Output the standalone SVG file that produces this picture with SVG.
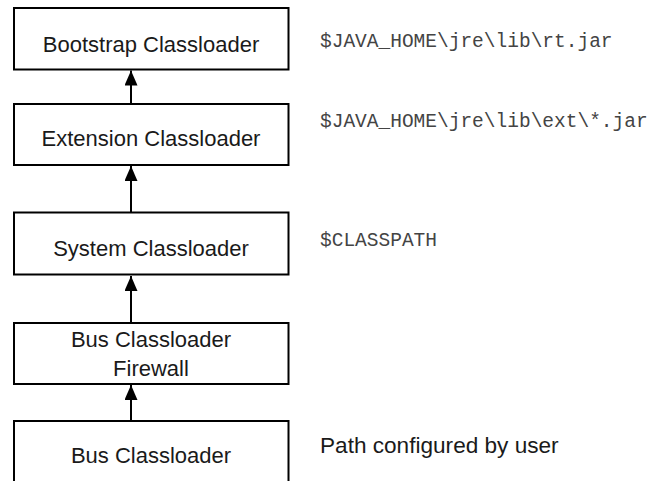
<svg xmlns="http://www.w3.org/2000/svg" width="655" height="481" viewBox="0 0 655 481">
<defs>
<style>
.box{fill:#fff;stroke:#000;stroke-width:2}
.lbl{font-family:"Liberation Sans",Arial,sans-serif;font-size:22px;fill:#1a1a1a;text-anchor:middle}
.note{font-family:"Liberation Sans",Arial,sans-serif;font-size:22.6px;fill:#1a1a1a}
.mono{font-family:"Liberation Mono","Courier New",monospace;font-size:19.5px;fill:#444}
.edge{stroke:#000;stroke-width:2;fill:none;marker-end:url(#arr)}
</style>
<marker id="arr" viewBox="0 0 15 13" refX="15" refY="6.5" markerWidth="15" markerHeight="13" markerUnits="userSpaceOnUse" orient="auto">
<path d="M0,0 L15,6.5 L0,13 Z" fill="#000"/>
</marker>
</defs>
<rect width="655" height="481" fill="#fff"/>
<g id="connectors">
<line class="edge" x1="131" y1="104" x2="131" y2="70.5"/>
<line class="edge" x1="131" y1="212.5" x2="131" y2="166"/>
<line class="edge" x1="131" y1="323" x2="131" y2="276"/>
<line class="edge" x1="131" y1="421" x2="131" y2="385"/>
</g>
<g id="bootstrap">
<rect class="box" x="14" y="8" width="274.5" height="61.5"/>
<text class="lbl" x="151" y="51.5">Bootstrap Classloader</text>
</g>
<g id="extension">
<rect class="box" x="14" y="104" width="274.5" height="61"/>
<text class="lbl" x="151" y="145.5">Extension Classloader</text>
</g>
<g id="system">
<rect class="box" x="14" y="212.5" width="274.5" height="62"/>
<text class="lbl" x="151" y="256">System Classloader</text>
</g>
<g id="firewall">
<rect class="box" x="14" y="323" width="274.5" height="61"/>
<text class="lbl" x="151" y="346.5">Bus Classloader</text>
<text class="lbl" x="151" y="376">Firewall</text>
</g>
<g id="bus">
<rect class="box" x="14" y="421" width="274.5" height="80"/>
<text class="lbl" x="151" y="463">Bus Classloader</text>
</g>
<g id="notes">
<text class="mono" x="320" y="46.5">$JAVA_HOME\jre\lib\rt.jar</text>
<text class="mono" x="320" y="127">$JAVA_HOME\jre\lib\ext\*.jar</text>
<text class="mono" x="320" y="246">$CLASSPATH</text>
<text class="note" x="320" y="452.5">Path configured by user</text>
</g>
</svg>
